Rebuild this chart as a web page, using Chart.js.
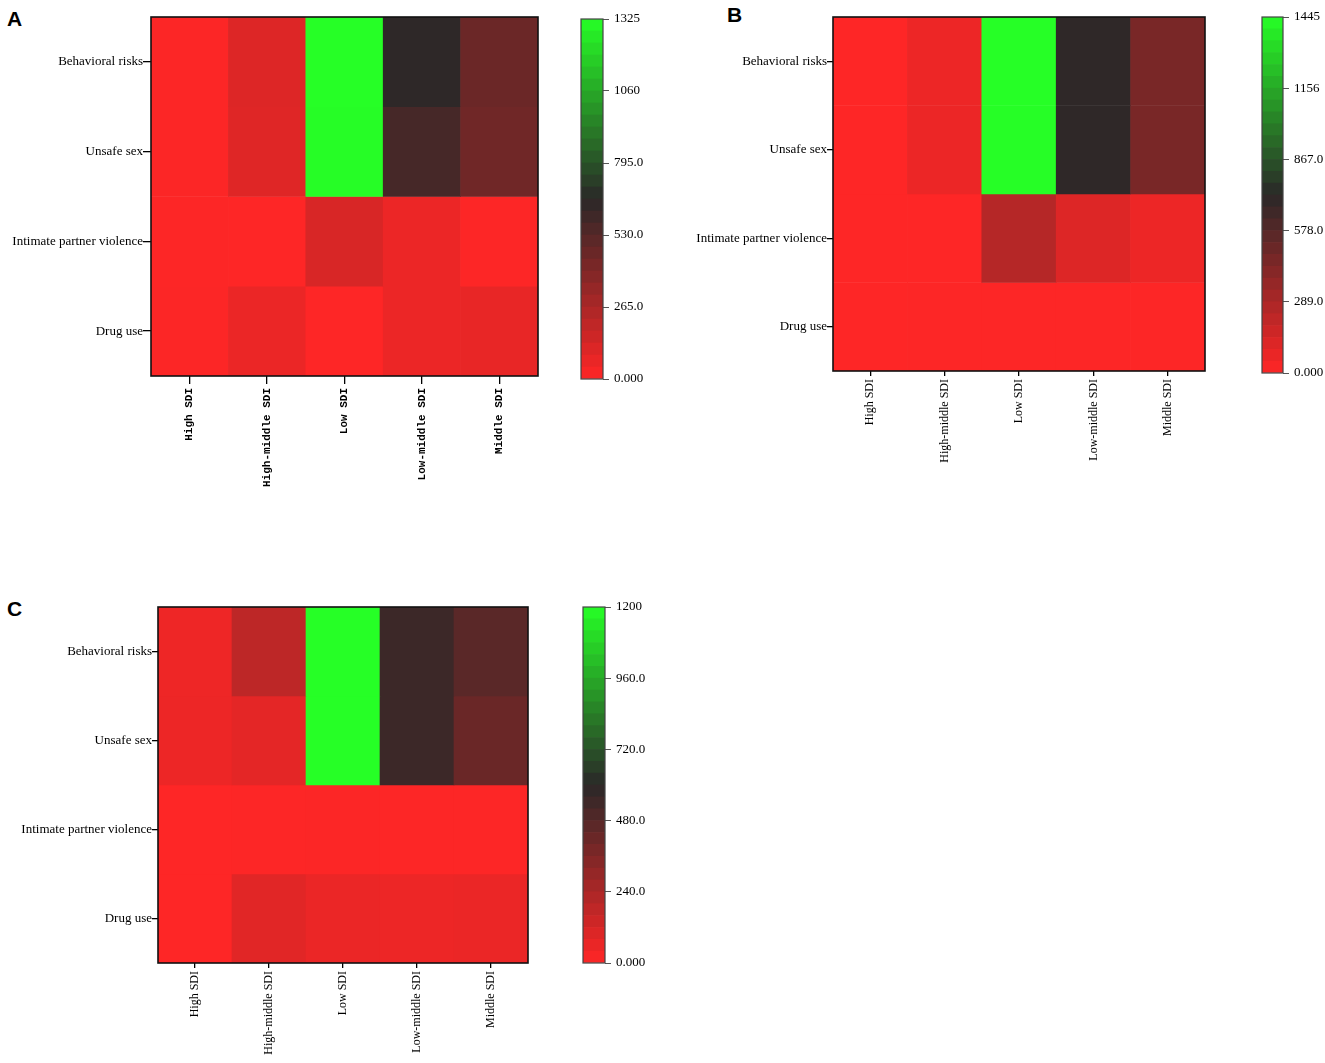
<!DOCTYPE html>
<html><head><meta charset="utf-8">
<script src="https://cdn.jsdelivr.net/npm/chart.js@4.4.0/dist/chart.umd.min.js"></script>
<style>
body{margin:0;background:#fff;width:1325px;height:1063px;position:relative;overflow:hidden}
canvas{position:absolute}
.lbl{position:absolute;font:bold 21px "Liberation Sans",Arial,sans-serif;color:#000;line-height:1}
</style></head><body>
<div class="lbl" style="left:7px;top:8px">A</div>
<div class="lbl" style="left:727px;top:4px">B</div>
<div class="lbl" style="left:7px;top:598px">C</div>
<canvas id="hA" width="560" height="500" style="left:0;top:0"></canvas>
<canvas id="cA" width="110" height="400" style="left:571px;top:0"></canvas>
<canvas id="hB" width="560" height="500" style="left:680px;top:0"></canvas>
<canvas id="cB" width="73" height="400" style="left:1252px;top:0"></canvas>
<canvas id="hC" width="560" height="473" style="left:0;top:590px"></canvas>
<canvas id="cC" width="110" height="400" style="left:573px;top:588px"></canvas>
<script>
// ---------- data ----------
const sdiCategories = ['High SDI','High-middle SDI','Low SDI','Low-middle SDI','Middle SDI'];
const riskFactors = ['Behavioral risks','Unsafe sex','Intimate partner violence','Drug use'];

// Panel A (columns follow sdiCategories)
const aBehavioral = [8, 105, 1325, 650, 460];
const aUnsafeSex  = [8, 100, 1320, 575, 445];
const aIPV        = [5, 4, 120, 60, 6];
const aDrugUse    = [8, 62, 4, 60, 70];
const aMax = 1325;
const aColorTicks = [0, 265, 530, 795, 1060, 1325];

// Panel B
const bBehavioral = [4, 60, 1445, 705, 455];
const bUnsafeSex  = [4, 65, 1440, 705, 455];
const bIPV        = [3, 3, 250, 115, 60];
const bDrugUse    = [5, 6, 8, 6, 7];
const bMax = 1445;
const bColorTicks = [0, 289, 578, 867, 1156, 1445];

// Panel C
const cBehavioral = [48, 186, 1200, 550, 465];
const cUnsafeSex  = [50, 75, 1200, 550, 420];
const cIPV        = [4, 6, 8, 5, 6];
const cDrugUse    = [4, 85, 55, 50, 56];
const cMax = 1200;
const cColorTicks = [0, 240, 480, 720, 960, 1200];

const colorSteps = 30;

// ---------- helpers ----------
const LOW = [255, 38, 38], MID = [42, 40, 40], HIGH = [38, 255, 38];
function lerp(a, b, t){ return a.map((v,i)=>Math.round(v + (b[i]-v)*t)); }
function colorFor(v, max){
  let t = Math.max(0, Math.min(1, v/max));
  const c = t < 0.5 ? lerp(LOW, MID, t*2) : lerp(MID, HIGH, (t-0.5)*2);
  return `rgb(${c[0]},${c[1]},${c[2]})`;
}
const serif = '"Liberation Serif","Times New Roman",serif';

const borderPlugin = {
  id:'areaBorder',
  afterDraw(chart, args, opts){
    const {ctx, chartArea:a} = chart;
    ctx.save();
    ctx.strokeStyle = opts.color || '#000';
    ctx.lineWidth = opts.width || 1.5;
    ctx.strokeRect(a.left, a.top, a.right-a.left, a.bottom-a.top);
    ctx.restore();
  }
};

function heatmap(id, rows, max, geom, xFont){
  const nRows = rows.length;
  const datasets = rows.map((vals, r) => ({
    data: vals.map(() => [nRows-1-r, nRows-r]),
    backgroundColor: vals.map(v => colorFor(v, max)),
    borderWidth: 0,
    grouped: false,
    barPercentage: 1,
    categoryPercentage: 1
  }));
  new Chart(document.getElementById(id), {
    type: 'bar',
    data: { labels: sdiCategories, datasets },
    options: {
      responsive:false, animation:false,
      events: [],
      layout:{ padding:{ left:0, top:geom.top, right:geom.right, bottom:0 } },
      plugins:{ legend:{display:false}, tooltip:{enabled:false}, areaBorder:{color:'#111', width:1.6} },
      scales:{
        x:{
          afterFit(s){ s.height = geom.xh; },
          grid:{ display:true, offset:false, drawOnChartArea:false, drawTicks:true, tickLength:geom.xTick, color:'#000', lineWidth:1.3 },
          border:{ display:false },
          ticks:{ minRotation:90, maxRotation:90, padding:geom.xPad, color:'#000', font:xFont, autoSkip:false }
        },
        y:{
          type:'linear', min:0, max:nRows,
          afterFit(s){ s.width = geom.yw; },
          afterBuildTicks(s){ s.ticks = riskFactors.map((_,i)=>({value: nRows-0.5-i})); },
          grid:{ display:true, drawOnChartArea:false, drawTicks:true, tickLength:geom.yTick, color:'#000', lineWidth:1.3 },
          border:{ display:false },
          ticks:{ padding:0, color:'#000', font:{family:serif, size:13},
                  callback:(v)=> riskFactors[nRows-1-Math.floor(v)] }
        }
      }
    },
    plugins:[borderPlugin]
  });
}

function colorbar(id, max, ticks, geom){
  const datasets = [];
  for(let k=0;k<colorSteps;k++){
    const lo = max*k/colorSteps, hi = max*(k+1)/colorSteps;
    datasets.push({ data:[[lo,hi]], backgroundColor: colorFor(max*(k+0.5)/colorSteps, max),
      borderWidth:0, grouped:false, barPercentage:1, categoryPercentage:1 });
  }
  new Chart(document.getElementById(id), {
    type:'bar',
    data:{ labels:['scale'], datasets },
    options:{
      responsive:false, animation:false, events:[],
      layout:{ padding:{ left:10, top:geom.top, right:0, bottom:geom.bottom } },
      plugins:{ legend:{display:false}, tooltip:{enabled:false}, areaBorder:{color:'#444', width:1.2} },
      scales:{
        x:{ display:false },
        y:{
          type:'linear', position:'right', min:0, max:max,
          afterFit(s){ s.width = geom.yw; },
          afterBuildTicks(s){ s.ticks = ticks.map(v=>({value:v})); },
          grid:{ display:true, drawOnChartArea:false, drawTicks:true, tickLength:6, color:'#555', lineWidth:1 },
          border:{ display:false },
          ticks:{ padding:5, color:'#000', font:{family:serif, size:13},
                  callback:(v)=> Number(v).toPrecision(4) }
        }
      }
    },
    plugins:[borderPlugin]
  });
}

// ---------- panels ----------
heatmap('hA', [aBehavioral, aUnsafeSex, aIPV, aDrugUse], aMax,
  {top:17, right:22, yw:151, xh:124, xTick:8, xPad:4, yTick:8},
  {family:'"Liberation Mono","DejaVu Sans Mono",monospace', size:11, weight:'bold'});
colorbar('cA', aMax, aColorTicks, {top:19, bottom:21, yw:78});

heatmap('hB', [bBehavioral, bUnsafeSex, bIPV, bDrugUse], bMax,
  {top:17, right:35, yw:153, xh:129, xTick:5, xPad:3, yTick:6}, {family:serif, size:12});
colorbar('cB', bMax, bColorTicks, {top:17, bottom:27, yw:42});

heatmap('hC', [cBehavioral, cUnsafeSex, cIPV, cDrugUse], cMax,
  {top:17, right:32, yw:158, xh:100, xTick:5, xPad:3, yTick:6}, {family:serif, size:12});
colorbar('cC', cMax, cColorTicks, {top:19, bottom:25, yw:78});
</script>
</body></html>
